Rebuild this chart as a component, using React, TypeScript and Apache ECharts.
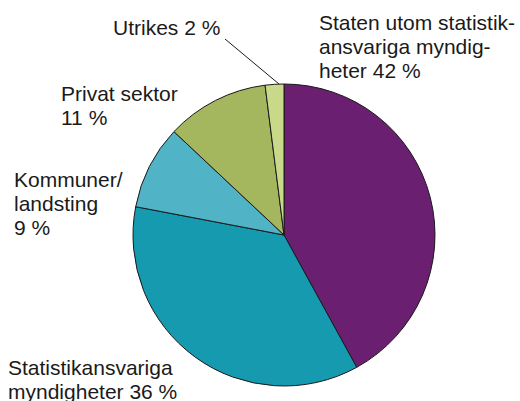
import React, { useEffect, useRef } from "react";
import * as echarts from "echarts";

const categories = [
  "Staten utom statistik-\nansvariga myndig-\nheter",
  "Statistikansvariga\nmyndigheter",
  "Kommuner/\nlandsting",
  "Privat sektor",
  "Utrikes",
];
const values = [42, 36, 9, 11, 2];
const separators = [" ", " ", "\n", "\n", " "];
const colors = ["#6b1f70", "#159aaf", "#50b3c6", "#a4b75f", "#c8d98a"];

export default function App() {
  const ref = useRef<HTMLDivElement>(null);
  useEffect(() => {
    document.body.style.margin = "0";
    const chart = echarts.init(ref.current!, undefined, { renderer: "svg" });
    const labelPos: [number, number][] = [
      [319, 10],
      [8, 355],
      [14, 167],
      [61, 81],
      [113, 15],
    ];
    const font = { fontFamily: "Liberation Sans, Arial, sans-serif", fontSize: 21, lineHeight: 24, fill: "#1a1a1a" };
    chart.setOption({
      animation: false,
      backgroundColor: "#ffffff",
      series: [
        {
          type: "pie",
          center: [284, 235],
          radius: 151,
          startAngle: 90,
          clockwise: true,
          label: { show: false },
          labelLine: { show: false },
          itemStyle: { borderColor: "#1a1a1a", borderWidth: 1 },
          emphasis: { disabled: true },
          data: categories.map((c, i) => ({
            name: c,
            value: values[i],
            itemStyle: { color: colors[i] },
          })),
        },
      ],
      graphic: [
        ...categories.map((c, i) => ({
          type: "text",
          x: labelPos[i][0],
          y: labelPos[i][1],
          style: {
            ...font,
            text: `${c}${separators[i]}${values[i]} %`,
            align: "left",
            verticalAlign: "top",
          },
        })),
        {
          type: "line",
          shape: { x1: 225, y1: 39, x2: 279, y2: 84 },
          style: { stroke: "#1a1a1a", lineWidth: 1 },
        },
      ],
    });
    return () => chart.dispose();
  }, []);
  return <div ref={ref} style={{ width: 520, height: 401 }} />;
}
